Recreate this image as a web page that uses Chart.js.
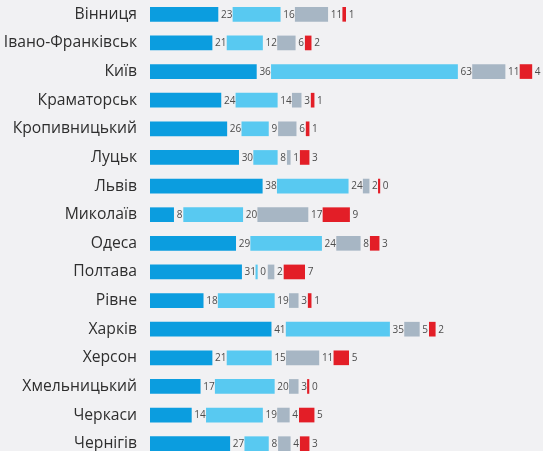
<!DOCTYPE html>
<html>
<head>
<meta charset="utf-8">
<script src="https://cdn.jsdelivr.net/npm/chart.js@4.4.1/dist/chart.umd.min.js"></script>
<style>
  html, body { margin: 0; padding: 0; background: #f1f1f3; overflow: hidden; }
  #wrap { width: 543px; height: 458px; }
</style>
</head>
<body>
<div id="wrap"><canvas id="cityChart" width="543" height="458"></canvas></div>
<script>
// Міста (категорії)
const cities = [
  'Вінниця', 'Івано-Франківськ', 'Київ', 'Краматорськ', 'Кропивницький', 'Луцьк',
  'Львів', 'Миколаїв', 'Одеса', 'Полтава', 'Рівне', 'Харків', 'Херсон',
  'Хмельницький', 'Черкаси', 'Чернігів'
];

// Серії
const seriesA = [23, 21, 36, 24, 26, 30, 38, 8, 29, 31, 18, 41, 21, 17, 14, 27];
const seriesB = [16, 12, 63, 14, 9, 8, 24, 20, 24, 0, 19, 35, 15, 20, 19, 8];
const seriesC = [11, 6, 11, 3, 6, 1, 2, 17, 8, 2, 3, 5, 11, 3, 4, 4];
const seriesD = [1, 2, 4, 1, 1, 3, 0, 9, 3, 7, 1, 2, 5, 0, 5, 3];

const colors = ['#0b9ddf', '#58c9f1', '#a7b6c4', '#e31e27'];

const X_MAX = 133;
const AXIS_W = 150;
const pxPerUnit = (543 - AXIS_W) / X_MAX;

// gap after each bar leaves room for its value label
function spacer(values) {
  return values.map(v => (5 + 5 * String(v).length) / pxPerUnit);
}

function realSet(label, data, color) {
  return { label, data, backgroundColor: color, minBarLength: 1.5, barThickness: 14, isValue: true };
}
function gapSet(data) {
  return { label: '', data, backgroundColor: 'rgba(0,0,0,0)', barThickness: 14, isValue: false };
}

const valueLabels = {
  id: 'valueLabels',
  afterDatasetsDraw(chart) {
    const ctx = chart.ctx;
    ctx.save();
    ctx.font = '10px "Open Sans", sans-serif';
    ctx.fillStyle = '#4d4d4d';
    ctx.textAlign = 'left';
    ctx.textBaseline = 'middle';
    chart.data.datasets.forEach((ds, i) => {
      if (!ds.isValue) return;
      chart.getDatasetMeta(i).data.forEach((el, j) => {
        const right = Math.max(el.x, el.base);
        ctx.fillText(String(ds.data[j]), right + 3, el.y + 0.5);
      });
    });
    ctx.restore();
  }
};

new Chart(document.getElementById('cityChart').getContext('2d'), {
  type: 'bar',
  data: {
    labels: cities,
    datasets: [
      realSet('A', seriesA, colors[0]),
      gapSet(spacer(seriesA)),
      realSet('B', seriesB, colors[1]),
      gapSet(spacer(seriesB)),
      realSet('C', seriesC, colors[2]),
      gapSet(spacer(seriesC)),
      realSet('D', seriesD, colors[3])
    ]
  },
  options: {
    indexAxis: 'y',
    responsive: false,
    animation: false,
    layout: { padding: 0 },
    plugins: { legend: { display: false }, tooltip: { enabled: false } },
    scales: {
      x: { stacked: true, min: 0, max: X_MAX, display: false },
      y: {
        stacked: true,
        grid: { display: false, drawTicks: false, tickLength: 0 },
        border: { display: false },
        ticks: { color: '#2e2e2e', padding: 13, font: { family: '"Open Sans", sans-serif', size: 15.7 } },
        afterFit(scale) {
          scale.width = AXIS_W;
          scale.paddingTop = 0;
          scale.paddingBottom = 0;
        }
      }
    }
  },
  plugins: [valueLabels]
});
</script>
</body>
</html>
